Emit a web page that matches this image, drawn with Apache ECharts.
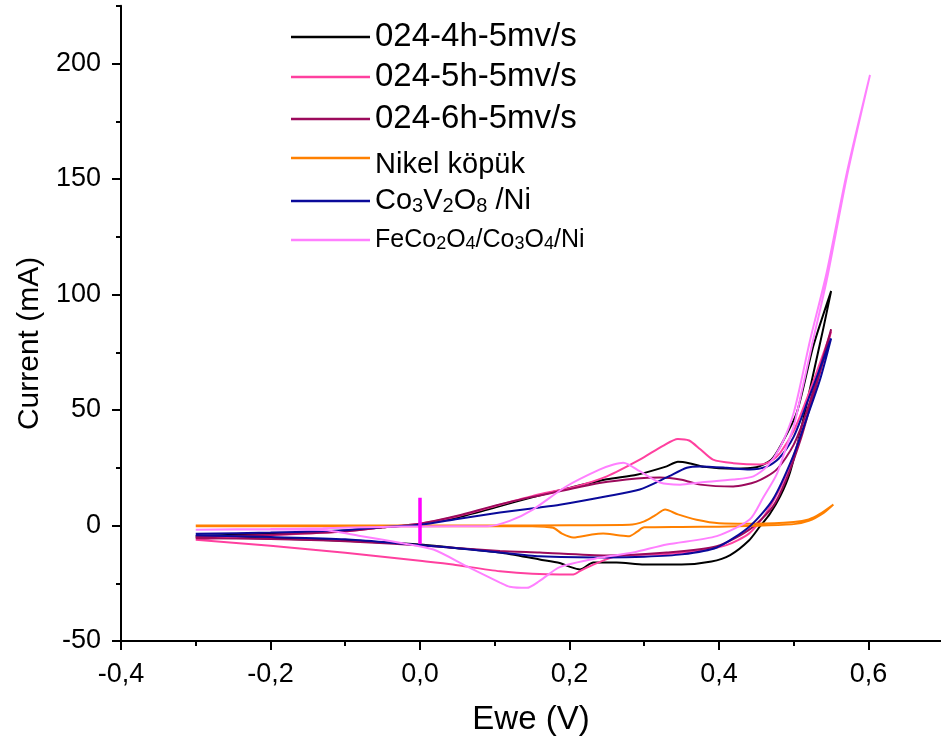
<!DOCTYPE html>
<html>
<head>
<meta charset="utf-8">
<script src="https://cdn.jsdelivr.net/npm/echarts@6/dist/echarts.min.js"></script>
<style>
html,body{margin:0;padding:0;background:#fff;}
#chart{width:941px;height:749px;}
</style>
</head>
<body>
<div id="chart"></div>
<script>
// ---- data (potential V, current mA), forward scan then reverse scan ----
const seriesNames = ['024-4h-5mv/s', '024-5h-5mv/s', '024-6h-5mv/s', 'Nikel köpük', 'Co3V2O8 /Ni', 'FeCo2O4/Co3O4/Ni'];

const cv4h = [
  [-0.30,-4.5],[-0.20,-3.6],[-0.10,-2.2],[-0.05,-0.8],[0.00,0.6],[0.05,3.5],[0.10,7.8],[0.15,12.2],[0.20,16.3],[0.25,20.0],[0.29,22.0],[0.33,25.6],[0.345,27.6],[0.36,27.0],[0.38,25.4],[0.42,24.6],[0.45,25.2],[0.47,28.5],[0.482,34.3],[0.504,48.8],[0.526,77.5],[0.55,101.5],
  [0.54,86],[0.525,64],[0.51,42],[0.495,23],[0.482,12.7],[0.468,5.0],[0.455,-0.3],[0.44,-6.5],[0.415,-12.8],[0.39,-15.6],[0.35,-16.9],[0.30,-16.9],[0.263,-16.0],[0.232,-16.0],[0.214,-19.0],[0.20,-17.8],[0.187,-16.2],[0.16,-14.7],[0.107,-11.7],[0.04,-9.5],[0.00,-8.2],[-0.10,-6.6],[-0.20,-5.6],[-0.30,-5.0]
];
const cv5h = [
  [-0.30,-6.0],[-0.20,-4.2],[-0.10,-2.6],[-0.05,-0.8],[0.00,0.8],[0.05,4.0],[0.107,9.0],[0.16,13.5],[0.205,16.6],[0.25,21.3],[0.294,28.5],[0.325,34.5],[0.345,37.5],[0.36,36.8],[0.375,33.0],[0.392,28.5],[0.419,27.0],[0.455,26.4],[0.47,28.0],[0.482,31.5],[0.50,41],[0.52,57],[0.55,84],
  [0.54,72],[0.525,55],[0.51,40],[0.495,26],[0.48,15],[0.46,4],[0.44,-3.5],[0.41,-8.5],[0.375,-10.8],[0.33,-12.3],[0.263,-13.3],[0.235,-16.5],[0.215,-19.5],[0.205,-21.2],[0.187,-21.2],[0.107,-19.8],[0.044,-16.9],[0.00,-15.3],[-0.10,-11.8],[-0.20,-8.8],[-0.30,-6.2]
];
const cv6h = [
  [-0.30,-5.0],[-0.20,-4.0],[-0.10,-2.6],[-0.05,-0.8],[0.00,0.8],[0.05,4.2],[0.10,8.6],[0.15,12.4],[0.187,14.8],[0.24,18.4],[0.29,20.4],[0.321,20.8],[0.35,19.8],[0.375,17.7],[0.419,16.9],[0.45,19.0],[0.477,24.2],[0.50,35],[0.52,52],[0.55,85],
  [0.54,72],[0.525,55],[0.51,38],[0.49,20],[0.472,8.2],[0.441,-1.7],[0.397,-9.0],[0.33,-11.7],[0.25,-13.0],[0.16,-11.7],[0.107,-11.0],[0.018,-9.0],[-0.10,-6.8],[-0.20,-5.8],[-0.30,-5.5]
];
const cvNiFoam = [
  [-0.30,0.0],[-0.10,0.0],[0.10,0.0],[0.20,0.1],[0.28,0.3],[0.30,1.8],[0.315,4.5],[0.328,6.9],[0.345,4.8],[0.37,2.5],[0.40,1.0],[0.45,0.8],[0.50,1.5],[0.52,2.6],[0.535,5.0],[0.553,9.1],
  [0.54,5.5],[0.52,2.0],[0.50,0.6],[0.45,-0.1],[0.40,-0.5],[0.35,-0.6],[0.30,-0.8],[0.29,-2.8],[0.28,-4.6],[0.265,-4.2],[0.245,-3.5],[0.23,-3.9],[0.205,-5.2],[0.19,-3.5],[0.178,-1.0],[0.15,-0.3],[0.00,-0.3],[-0.30,-0.3]
];
const cvCoV = [
  [-0.30,-3.6],[-0.20,-3.0],[-0.10,-2.0],[-0.05,-0.6],[0.00,0.3],[0.05,2.8],[0.107,5.6],[0.16,7.8],[0.187,9.0],[0.25,12.7],[0.294,15.6],[0.33,20.8],[0.357,25.0],[0.375,25.6],[0.41,25.0],[0.441,24.2],[0.464,25.5],[0.48,29],[0.50,38.5],[0.52,55],[0.55,81],
  [0.535,63],[0.518,47],[0.499,29.8],[0.472,11.2],[0.441,-0.4],[0.397,-9.5],[0.35,-12.5],[0.30,-13.5],[0.25,-13.8],[0.16,-13.3],[0.107,-11.7],[0.04,-9.5],[-0.027,-7.8],[-0.10,-6.0],[-0.20,-5.0],[-0.30,-4.2]
];
const cvFeCo = [
  [-0.30,-1.8],[-0.20,-1.5],[-0.13,-1.2],[-0.05,-0.6],[0.00,-0.4],[0.09,-0.3],[0.12,2.0],[0.151,6.9],[0.196,17.0],[0.24,24.2],[0.259,26.4],[0.272,27.2],[0.294,23.5],[0.321,18.6],[0.348,17.7],[0.375,18.6],[0.419,19.9],[0.446,21.3],[0.464,25.5],[0.482,34.0],[0.50,48.8],[0.522,80.4],[0.544,109.4],[0.571,152.6],[0.602,195],
  [0.571,151],[0.544,106],[0.525,79],[0.512,60],[0.50,43],[0.488,32],[0.477,22],[0.459,12],[0.441,2.6],[0.397,-4.6],[0.33,-8.2],[0.285,-11.7],[0.24,-14],[0.187,-18],[0.16,-24.0],[0.143,-27.0],[0.12,-26.5],[0.107,-24.7],[0.062,-17.6],[0.018,-10.4],[-0.027,-7.5],[-0.08,-4.5],[-0.13,-1.9],[-0.20,-1.7],[-0.30,-1.8]
];
const ocvSpike = [[0,-8],[0,-3],[0,4],[0,12]];

const xMajor = [-0.4,-0.2,0.0,0.2,0.4,0.6];
const xMinor = [-0.3,-0.1,0.1,0.3,0.5];
const yMajor = [-50,0,50,100,150,200];
const yMinor = [-25,25,75,125,175,225];

// ---- styling ----
const colors = ['#000000','#ff409f','#9c0a5c','#ff8000','#0a0a9a','#ff80ff'];
const FONT = 'Liberation Sans, Arial, sans-serif';

const chart = echarts.init(document.getElementById('chart'), null, {renderer:'canvas'});

const xCommon = {type:'value', min:-0.4, max:0.697, interval:0.2, splitLine:{show:false}};
const yCommon = {type:'value', min:-50, max:225, interval:50, splitLine:{show:false}};

function legendItem(name, top, opts) {
  return Object.assign({
    data:[name], left:291, top:top, padding:0, icon:'rect', itemWidth:79, itemHeight:2.5, itemGap:0,
    selectedMode:false,
    textStyle:{fontFamily:FONT, color:'#000', fontSize:33, lineHeight:40}
  }, opts || {});
}

const option = {
  animation:false,
  backgroundColor:'#fff',
  grid:{left:121, right:0, top:5.8, bottom:108, containLabel:false, outerBoundsMode:'none'},
  xAxis:[
    Object.assign({}, xCommon, {
      position:'bottom',
      axisLine:{onZero:false, lineStyle:{color:'#000', width:2}},
      axisTick:{customValues:xMajor, length:9, lineStyle:{color:'#000', width:2}},
      axisLabel:{customValues:xMajor, fontFamily:FONT, fontSize:27, color:'#000', margin:20,
        formatter:v => (Math.round(v*10)/10).toFixed(1).replace('.', ',')},
      name:'Ewe (V)', nameLocation:'middle', nameGap:62,
      nameTextStyle:{fontFamily:FONT, fontSize:33, color:'#000'}
    }),
    Object.assign({}, xCommon, {
      position:'bottom',
      axisLine:{show:false, onZero:false},
      axisTick:{customValues:xMinor, length:5, lineStyle:{color:'#000', width:2}},
      axisLabel:{show:false}
    })
  ],
  yAxis:[
    Object.assign({}, yCommon, {
      position:'left',
      axisLine:{show:true, onZero:false, lineStyle:{color:'#000', width:2}},
      axisTick:{show:true, customValues:yMajor, length:9, lineStyle:{color:'#000', width:2}},
      axisLabel:{customValues:yMajor, fontFamily:FONT, fontSize:27, color:'#000', margin:20},
      name:'Current (mA)', nameLocation:'middle', nameGap:76,
      nameTextStyle:{fontFamily:FONT, fontSize:30, color:'#000', padding:[0,40,0,0]}
    }),
    Object.assign({}, yCommon, {
      position:'left',
      axisLine:{show:false, onZero:false},
      axisTick:{show:true, customValues:yMinor, length:5, lineStyle:{color:'#000', width:2}},
      axisLabel:{show:false}
    })
  ],
  legend:[
    legendItem(seriesNames[0], 17),
    legendItem(seriesNames[1], 57),
    legendItem(seriesNames[2], 99),
    legendItem(seriesNames[3], 131, {
      formatter:() => '{e| }\n{n|Nikel köpük}',
      textStyle:{fontFamily:FONT, color:'#000', fontSize:29, lineHeight:40,
        rich:{e:{fontFamily:FONT, fontSize:8, lineHeight:14, color:'#000'},
              n:{fontFamily:FONT, fontSize:29, lineHeight:40, color:'#000'}}}
    }),
    legendItem(seriesNames[4], 181, {
      formatter:() => '{n|Co}{s|3}{n|V}{s|2}{n|O}{s|8}{n| /Ni}',
      textStyle:{fontFamily:FONT, color:'#000', fontSize:29, lineHeight:40,
        rich:{n:{fontFamily:FONT, fontSize:29, lineHeight:40, color:'#000'},
              s:{fontFamily:FONT, fontSize:20, color:'#000', padding:[10,0,0,0]}}}
    }),
    legendItem(seriesNames[5], 220, {
      formatter:() => '{n|FeCo}{s|2}{n|O}{s|4}{n|/Co}{s|3}{n|O}{s|4}{n|/Ni}',
      textStyle:{fontFamily:FONT, color:'#000', fontSize:25, lineHeight:40,
        rich:{n:{fontFamily:FONT, fontSize:25, lineHeight:40, color:'#000'},
              s:{fontFamily:FONT, fontSize:18, color:'#000', padding:[9,0,0,0]}}}
    })
  ],
  series:[
    {name:seriesNames[0], data:cv4h},
    {name:seriesNames[1], data:cv5h},
    {name:seriesNames[2], data:cv6h},
    {name:seriesNames[3], data:cvNiFoam},
    {name:seriesNames[4], data:cvCoV},
    {name:seriesNames[5], data:cvFeCo},
    {name:'OCV', data:ocvSpike, color:'#ff00ff', lineWidth:3.5}
  ].map((s, i) => ({
    type:'line', name:s.name, data:s.data, xAxisIndex:0, yAxisIndex:0,
    symbol:'none', showSymbol:false, smooth:0.25, clip:true,
    color:s.color || colors[i],
    lineStyle:{width:s.lineWidth || 2, color:s.color || colors[i]},
    emphasis:{disabled:true}
  }))
};
chart.setOption(option);
</script>
</body>
</html>
